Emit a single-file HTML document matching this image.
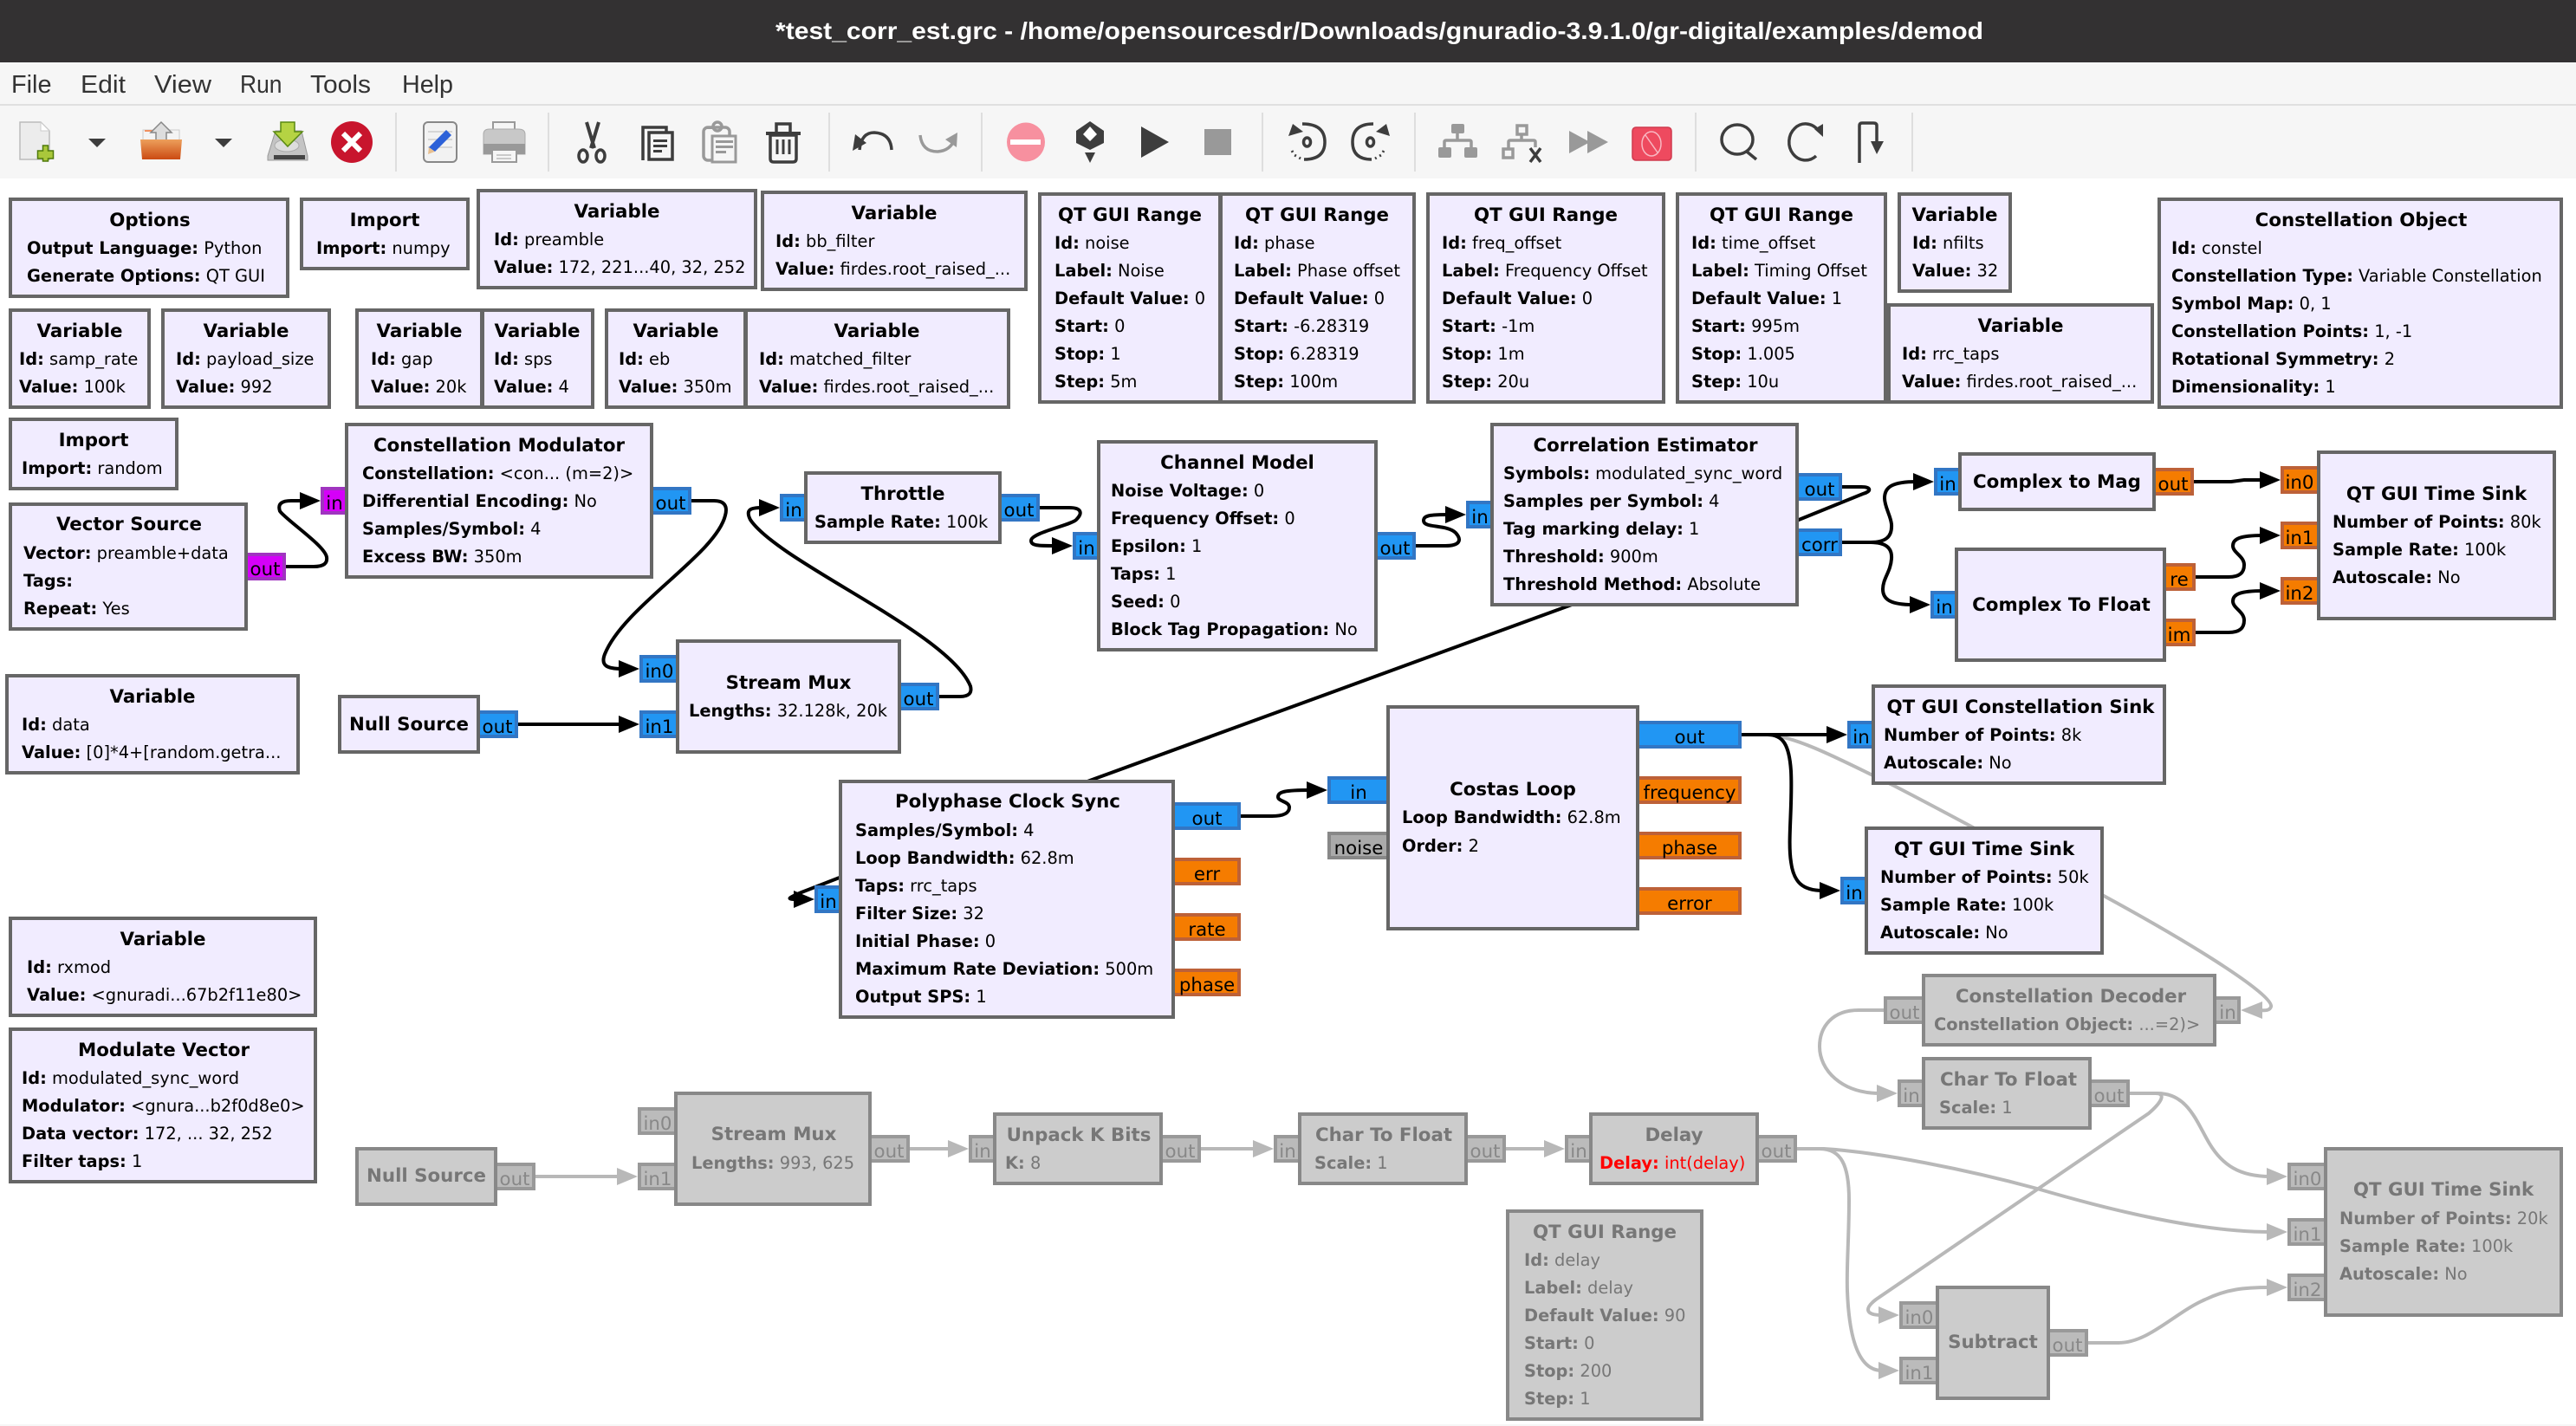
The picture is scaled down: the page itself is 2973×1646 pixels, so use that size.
<!DOCTYPE html>
<html lang="en"><head><meta charset="utf-8"><title>test_corr_est.grc</title>
<style>
html,body{margin:0;padding:0;background:#fff;width:2973px;height:1646px;overflow:hidden}
svg{display:block}
text{font-family:"DejaVu Sans","Liberation Sans",sans-serif;font-size:19.4px;fill:#000;white-space:pre}
tspan.k,text.k{font-weight:bold}
text.t{font-weight:bold;font-size:21.33px;text-anchor:middle}
.d text,text.d{fill:#777}
text.p{font-size:21.33px;text-anchor:middle}
.b{fill:#f1ecff;stroke:#666;stroke-width:4}
.bd{fill:#ccc;stroke:#888;stroke-width:4}
.pb{fill:#2196f3;stroke:#3276c4;stroke-width:4}
.po{fill:#f57c00;stroke:#bd6138;stroke-width:4}
.pm{fill:#d500f9;stroke:#a034c0;stroke-width:4}
.pg{fill:#aaa;stroke:#888;stroke-width:4}
.pd{fill:#bbb;stroke:#999;stroke-width:4}
.c{fill:none;stroke:#000;stroke-width:4}
.cd{fill:none;stroke:#b8b8b8;stroke-width:4}
.a{fill:#000}
.ad{fill:#b8b8b8}
text.dp{font-size:21.33px;text-anchor:middle;fill:#888}
.m{font-family:"Liberation Sans",sans-serif;font-size:28.5px;fill:#333}
.sep{fill:#dedede}
.ic{fill:#3d3d3d}
.is{fill:none;stroke:#3d3d3d;stroke-width:3.5}
.ig{fill:#999}
.igs{fill:none;stroke:#999;stroke-width:3.5}
</style></head><body>
<svg xmlns="http://www.w3.org/2000/svg" width="2973" height="1646" viewBox="0 0 2973 1646">
<rect x="0" y="0" width="2973" height="1646" fill="#fff"/>
<!-- title and menu -->
<rect x="0" y="0" width="2973" height="72" fill="#333132"/>
<text x="895" y="45" textLength="1394" lengthAdjust="spacingAndGlyphs" style="font-family:'Liberation Sans',sans-serif;font-weight:bold;font-size:28px;fill:#fff">*test_corr_est.grc - /home/opensourcesdr/Downloads/gnuradio-3.9.1.0/gr-digital/examples/demod</text>
<rect x="0" y="72" width="2973" height="134" fill="#f6f6f6"/>
<rect x="0" y="120" width="2973" height="2" fill="#e0e0e0"/>
<text class="m" x="13" y="107" textLength="46.5" lengthAdjust="spacingAndGlyphs">File</text>
<text class="m" x="93" y="107" textLength="52" lengthAdjust="spacingAndGlyphs">Edit</text>
<text class="m" x="178" y="107" textLength="66" lengthAdjust="spacingAndGlyphs">View</text>
<text class="m" x="277" y="107" textLength="48.5" lengthAdjust="spacingAndGlyphs">Run</text>
<text class="m" x="358" y="107" textLength="70" lengthAdjust="spacingAndGlyphs">Tools</text>
<text class="m" x="464" y="107" textLength="59" lengthAdjust="spacingAndGlyphs">Help</text>
<rect x="0" y="1644" width="2973" height="2" fill="#f6f6f6"/>
<!-- toolbar -->
<defs>
<linearGradient id="og" x1="0" y1="0" x2="0" y2="1"><stop offset="0" stop-color="#eda05c"/><stop offset="1" stop-color="#cb4a12"/></linearGradient>
</defs>
<g>
<rect class="sep" x="456" y="130" width="2" height="68"/><rect class="sep" x="632" y="130" width="2" height="68"/><rect class="sep" x="956" y="130" width="2" height="68"/><rect class="sep" x="1132" y="130" width="2" height="68"/><rect class="sep" x="1456" y="130" width="2" height="68"/><rect class="sep" x="1632" y="130" width="2" height="68"/><rect class="sep" x="1956" y="130" width="2" height="68"/><rect class="sep" x="2206" y="130" width="2" height="68"/>
<path d="M23 141H47L57 151V184H23Z" fill="#ececec" stroke="#bbb" stroke-width="1.5"/>
<path d="M47 141L57 151H47Z" fill="#fff" stroke="#ccc"/>
<path d="M50 168H56V174H62V183H56V186H50V183H44V174H50Z" transform="translate(-0.5,0)" fill="#a9c73b" stroke="#4f7a0a" stroke-width="1.5"/>
<path d="M102 160H122L112 170Z" class="ic"/>
<path d="M165 150H207V170H165Z" fill="#f4f4f4" stroke="#ccc"/>
<rect x="167" y="150" width="11" height="2" fill="#f09060"/>
<path d="M186 141L198 153H192V165H180V153H174Z" fill="#ddd" stroke="#888" stroke-width="1.5"/>
<path d="M162 161H210L208 184H164Z" fill="url(#og)"/>
<path d="M248 160H268L258 170Z" class="ic"/>
<path d="M318 151H348L355 180V185H309V180Z" fill="#c4c4c4" stroke="#999"/>
<rect x="316" y="179" width="36" height="5" fill="#444"/>
<ellipse cx="331" cy="168" rx="14" ry="7" fill="#ddd" stroke="#aaa"/>
<path d="M324 141H340V152H349L332 169L316 152H324Z" fill="#b5d343" stroke="#5a8a12" stroke-width="1.5"/>
<circle cx="406" cy="164" r="24" fill="#c8152d"/>
<path d="M396 154L416 174M416 154L396 174" stroke="#fff" stroke-width="6" fill="none"/>
<rect x="489" y="141" width="38" height="46" rx="5" fill="#f2f2f2" stroke="#888" stroke-width="2"/>
<path d="M494 152H522M494 161H522M494 170H522" stroke="#ccc" stroke-width="1.5"/>
<path d="M515 150L521 156L502 175L495 170Z" fill="#2c61d8"/><path d="M495 170L502 175L494 178Z" fill="#e8c090"/>
<path d="M569 141H594V152H569Z" fill="#f6f6f6" stroke="#999" stroke-width="2"/>
<path d="M558 155Q558 149 565 149H598Q606 149 606 155V178H558Z" fill="#c8c8c8" stroke="#aaa"/>
<rect x="558" y="166" width="48" height="12" fill="#999"/>
<path d="M568 173H596V187H568Z" fill="#f6f6f6" stroke="#999" stroke-width="2"/>
<path d="M573 179H590M573 183H590" stroke="#bbb" stroke-width="1.5"/>
<path d="M677 141L686 171M691 141L682 171" stroke="#3d3d3d" stroke-width="4" fill="none"/>
<ellipse cx="673" cy="180" rx="5" ry="7" class="is"/><ellipse cx="693" cy="180" rx="5" ry="7" class="is"/>
<path d="M742 185V147H769V153M749 153H776V184H749Z" class="is" stroke-width="3" fill="none"/>
<path d="M754 161H770V164H754ZM754 167H770V170H754ZM754 173H764V176H754Z" class="ic"/>
<path d="M816 146H824V149H816Z" class="ig"/>
<rect x="812" y="147" width="30" height="38" rx="5" class="igs"/>
<circle cx="828" cy="146" r="5" class="igs"/>
<path d="M822 157H849V187H822Z" fill="#f6f6f6" stroke="#999" stroke-width="3"/>
<path d="M826 162H846V165H826ZM826 168H846V171H826ZM826 174H838V177H826Z" class="ig"/>
<path d="M885 153H923V155H885Z" class="ic" stroke="#3d3d3d" stroke-width="2"/>
<path d="M896 152V143H912V152" class="is" stroke-width="4"/>
<path d="M889 156H919V183Q919 187 915 187H893Q889 187 889 183Z" class="is" stroke-width="4"/>
<path d="M897 161V178M904 161V178M911 161V178" stroke="#3d3d3d" stroke-width="3" fill="none"/>
<path d="M992 173Q994 153 1009 153Q1028 154 1029 173" class="is" stroke-width="4"/>
<path d="M984 174L987 155L1000 165Z" class="ic"/>
<path d="M1062 156Q1064 175 1082 175Q1097 174 1102 160" class="igs" stroke-width="3.5"/>
<path d="M1105 153L1104 170L1091 161Z" class="ig"/>
<ellipse cx="1184" cy="164" rx="22" ry="22.5" fill="#f7909f"/>
<rect x="1167" y="162" width="33" height="4" fill="#fff" stroke="#fff" stroke-width="2"/>
<path d="M1258 140L1274 151V165L1258 173L1242 165V151Z" class="ic"/>
<path d="M1258 146L1266 155L1258 163L1250 155Z" fill="#fff"/>
<path d="M1252 176H1264L1258 188Z" class="ic"/>
<path d="M1317 146L1349 164L1317 182Z" class="ic"/>
<rect x="1390" y="149" width="31" height="30" class="ig"/>
<path d="M1503 143Q1529 143 1529 164Q1529 184 1505 184" class="is"/>
<path d="M1487 157L1492 143L1504 152Z" class="ic"/>
<path d="M1491 174L1494 179L1501 183" stroke="#3d3d3d" stroke-width="3" stroke-dasharray="2 4" fill="none"/>
<ellipse cx="1508.5" cy="164" rx="4" ry="5" class="is"/>
<path d="M1585 143Q1561 143 1561 164Q1561 184 1583 184" class="is"/>
<path d="M1604 157L1600 143L1588 152Z" class="ic"/>
<path d="M1597 174L1594 179L1587 183" stroke="#3d3d3d" stroke-width="3" stroke-dasharray="2 4" fill="none"/>
<ellipse cx="1581.5" cy="164" rx="4" ry="5" class="is"/>
<rect x="1675" y="143" width="15" height="11" rx="2" class="ig"/><rect x="1660" y="170" width="15" height="12" rx="2" class="ig"/><rect x="1690" y="170" width="15" height="12" rx="2" class="ig"/>
<path d="M1682 154V162M1667 170V164Q1667 162 1669 162H1696Q1698 162 1698 164V170" class="igs" stroke-width="3"/>
<rect x="1751" y="145" width="11" height="10" class="igs" stroke-width="3"/><rect x="1735" y="172" width="11" height="10" class="igs" stroke-width="3"/>
<path d="M1756 155V162M1741 172V164Q1741 162 1743 162H1770Q1772 162 1772 164V170" class="igs" stroke-width="3"/>
<path d="M1766 171L1778 187M1778 171L1766 187" class="is" stroke-width="3"/>
<path d="M1811 151L1835 164L1811 177ZM1832 151L1856 164L1832 177Z" class="ig"/>
<rect x="1884" y="147" width="45" height="38" rx="4" fill="#ee4a5f" stroke="#cf3a4e" stroke-width="1.5"/>
<ellipse cx="1906" cy="166" rx="11" ry="14" fill="none" stroke="#f8b8c2" stroke-width="1.5"/>
<path d="M1899 156L1913 176" stroke="#f8b8c2" stroke-width="1.5"/>
<ellipse cx="2005" cy="161" rx="18" ry="17" class="is"/>
<path d="M2016 175L2027 184" class="is" stroke-width="4"/>
<path d="M2098 150A19 21 0 1 0 2096 180" class="is"/><path d="M2094 149L2104 143L2104 158Z" class="ic"/>
<path d="M2146 188V145Q2146 142 2149 142H2162Q2166 142 2166 145V165" class="is"/>
<path d="M2159 163H2174L2166 178Z" class="ic"/>
</g>
<!-- disabled connectors -->
<g>
<path class="cd" d="M2010 848H2040C2075 850 2130 880 2186 907C2260 945 2340 990 2428 1034C2540 1095 2625 1150 2621 1162C2619 1168 2612 1166 2600 1166"/>
<path class="ad" d="M2586 1166L2611 1156V1176Z"/>
<path class="cd" d="M2174 1166H2145C2115 1166 2100 1185 2100 1208C2100 1235 2125 1262 2170 1262"/>
<path class="ad" d="M2190 1262L2166 1252V1272Z"/>
<path class="cd" d="M2458 1262H2490C2525 1262 2535 1295 2550 1320C2565 1345 2585 1358 2620 1358"/>
<path class="ad" d="M2640 1358L2616 1348V1368Z"/>
<path class="cd" d="M2458 1262H2488C2500 1262 2495 1272 2480 1285L2165 1500C2152 1510 2152 1518 2172 1518"/>
<path class="ad" d="M2192 1518L2168 1508V1528Z"/>
<path class="cd" d="M2074 1326H2105C2170 1330 2270 1350 2351 1372C2440 1398 2540 1422 2620 1422"/>
<path class="ad" d="M2640 1422L2616 1412V1432Z"/>
<path class="cd" d="M2074 1326H2100C2125 1326 2134 1345 2134 1385C2134 1430 2131 1460 2132 1490C2134 1545 2145 1582 2172 1582"/>
<path class="ad" d="M2192 1582L2168 1572V1592Z"/>
<path class="cd" d="M2410 1550H2445C2480 1550 2510 1515 2545 1500C2570 1488 2590 1486 2620 1486"/>
<path class="ad" d="M2640 1486L2616 1476V1496Z"/>
<path class="cd" d="M618 1358H716"/><path class="ad" d="M736 1358L712 1348V1368Z"/>
<path class="cd" d="M1050 1326H1098"/><path class="ad" d="M1118 1326L1094 1316V1336Z"/>
<path class="cd" d="M1386 1326H1450"/><path class="ad" d="M1470 1326L1446 1316V1336Z"/>
<path class="cd" d="M1738 1326H1786"/><path class="ad" d="M1806 1326L1782 1316V1336Z"/>
</g>
<!-- enabled connectors -->
<g>
<path class="c" d="M330 654H362C374 654 378 650 377 643C375 630 330 600 323 590C320 581 326 578 336 578H350"/>
<path class="a" d="M370 578L346 568V588Z"/>
<path class="c" d="M798 578H824C836 578 840 584 837 595C826 640 720 700 698 755C693 768 700 772 718 772"/>
<path class="a" d="M738 772L714 762V782Z"/>
<path class="c" d="M598 836H718"/><path class="a" d="M738 836L714 826V846Z"/>
<path class="c" d="M1084 804H1108C1118 804 1122 800 1120 792C1095 730 900 650 866 600C860 588 866 586 880 586"/>
<path class="a" d="M900 586L876 576V596Z"/>
<path class="c" d="M1200 586H1234C1248 586 1250 592 1242 600C1236 606 1190 615 1190 624C1190 630 1198 630 1218 630"/>
<path class="a" d="M1238 630L1214 620V640Z"/>
<path class="c" d="M1634 630H1668C1684 630 1688 624 1680 615C1670 605 1643 610 1643 601C1643 595 1650 594 1672 594"/>
<path class="a" d="M1692 594L1668 584V604Z"/>
<path class="c" d="M2126 562H2148C2160 562 2160 567 2150 570L2076 600L1814 698L1255 902L925 1030C908 1037 908 1038 920 1038"/>
<path class="a" d="M940 1038L916 1028V1048Z"/>
<path class="c" d="M2126 626H2158C2176 626 2184 620 2183 605C2182 595 2175 585 2175 575C2175 562 2184 556 2212 556"/>
<path class="a" d="M2232 556L2208 546V566Z"/>
<path class="c" d="M2126 626H2158C2176 626 2184 632 2183 645C2182 660 2173 668 2173 680C2173 692 2182 698 2208 698"/>
<path class="a" d="M2228 698L2204 688V708Z"/>
<path class="c" d="M2532 556H2575L2590 554H2612"/>
<path class="a" d="M2632 554L2608 544V564Z"/>
<path class="c" d="M2534 666H2572C2586 666 2590 660 2590 652C2590 642 2577 638 2577 630C2577 622 2585 618 2612 618"/>
<path class="a" d="M2632 618L2608 608V628Z"/>
<path class="c" d="M2534 730H2572C2586 730 2590 724 2590 716C2590 706 2577 702 2577 694C2577 686 2585 682 2612 682"/>
<path class="a" d="M2632 682L2608 672V692Z"/>
<path class="c" d="M1432 942H1468C1482 942 1488 938 1488 932C1488 925 1475 925 1475 920C1475 914 1482 912 1512 912"/>
<path class="a" d="M1532 912L1508 902V922Z"/>
<path class="c" d="M2010 848H2112"/><path class="a" d="M2132 848L2108 838V858Z"/>
<path class="c" d="M2010 848H2040C2058 848 2065 860 2067 890C2069 930 2063 970 2067 995C2070 1018 2080 1028 2104 1028"/>
<path class="a" d="M2124 1028L2100 1018V1038Z"/>
</g>
<!-- ports -->
<g>
<rect class="pm" x="280" y="640" width="48" height="28"/><rect class="pm" x="372" y="564" width="32" height="28"/>
<rect class="pb" x="748" y="564" width="48" height="28"/>
<rect class="pb" x="740" y="758" width="46" height="28"/><rect class="pb" x="740" y="822" width="46" height="28"/><rect class="pb" x="1034" y="790" width="48" height="28"/>
<rect class="pb" x="548" y="822" width="48" height="28"/>
<rect class="pb" x="902" y="572" width="32" height="28"/><rect class="pb" x="1150" y="572" width="48" height="28"/>
<rect class="pb" x="1240" y="616" width="32" height="28"/><rect class="pb" x="1584" y="616" width="48" height="28"/>
<rect class="pb" x="1694" y="580" width="32" height="28"/><rect class="pb" x="2070" y="548" width="54" height="28"/><rect class="pb" x="2070" y="612" width="54" height="28"/>
<rect class="pb" x="2234" y="542" width="32" height="28"/><rect class="po" x="2482" y="542" width="48" height="28"/>
<rect class="pb" x="2230" y="684" width="32" height="28"/><rect class="po" x="2494" y="652" width="38" height="28"/><rect class="po" x="2494" y="716" width="38" height="28"/>
<rect class="po" x="2634" y="540" width="46" height="28"/><rect class="po" x="2634" y="604" width="46" height="28"/><rect class="po" x="2634" y="668" width="46" height="28"/>
<rect class="pb" x="2134" y="834" width="32" height="28"/>
<rect class="pb" x="1534" y="898" width="72" height="28"/><rect class="pg" x="1534" y="962" width="72" height="28"/>
<rect class="pb" x="1886" y="834" width="122" height="28"/><rect class="po" x="1886" y="898" width="122" height="28"/><rect class="po" x="1886" y="962" width="122" height="28"/><rect class="po" x="1886" y="1026" width="122" height="28"/>
<rect class="pb" x="942" y="1024" width="32" height="28"/>
<rect class="pb" x="1350" y="928" width="80" height="28"/><rect class="po" x="1350" y="992" width="80" height="28"/><rect class="po" x="1350" y="1056" width="80" height="28"/><rect class="po" x="1350" y="1120" width="80" height="28"/>
<rect class="pb" x="2126" y="1014" width="32" height="28"/>
<rect class="pd" x="2176" y="1152" width="48" height="28"/><rect class="pd" x="2552" y="1152" width="32" height="28"/>
<rect class="pd" x="2192" y="1248" width="32" height="28"/><rect class="pd" x="2408" y="1248" width="48" height="28"/>
<rect class="pd" x="2642" y="1344" width="46" height="28"/><rect class="pd" x="2642" y="1408" width="46" height="28"/><rect class="pd" x="2642" y="1472" width="46" height="28"/>
<rect class="pd" x="2194" y="1504" width="46" height="28"/><rect class="pd" x="2194" y="1568" width="46" height="28"/><rect class="pd" x="2360" y="1536" width="48" height="28"/>
<rect class="pd" x="1808" y="1312" width="32" height="28"/><rect class="pd" x="2024" y="1312" width="48" height="28"/>
<rect class="pd" x="1472" y="1312" width="32" height="28"/><rect class="pd" x="1688" y="1312" width="48" height="28"/>
<rect class="pd" x="1120" y="1312" width="32" height="28"/><rect class="pd" x="1336" y="1312" width="48" height="28"/>
<rect class="pd" x="738" y="1280" width="46" height="28"/><rect class="pd" x="738" y="1344" width="46" height="28"/><rect class="pd" x="1000" y="1312" width="48" height="28"/>
<rect class="pd" x="568" y="1344" width="48" height="28"/>
</g>
<!-- blocks -->
<g>
<rect class="b" x="12" y="230" width="320" height="112"/>
<rect class="b" x="348" y="230" width="192" height="80"/>
<rect class="b" x="552" y="220" width="320" height="112"/>
<rect class="b" x="880" y="222" width="304" height="112"/>
<rect class="b" x="12" y="358" width="160" height="112"/>
<rect class="b" x="188" y="358" width="192" height="112"/>
<rect class="b" x="412" y="358" width="144" height="112"/>
<rect class="b" x="557" y="358" width="127" height="112"/>
<rect class="b" x="700" y="358" width="160" height="112"/>
<rect class="b" x="861" y="358" width="303" height="112"/>
<rect class="b" x="1200" y="224" width="208" height="240"/>
<rect class="b" x="1409" y="224" width="223" height="240"/>
<rect class="b" x="1648" y="224" width="272" height="240"/>
<rect class="b" x="1936" y="224" width="240" height="240"/>
<rect class="b" x="2192" y="224" width="128" height="112"/>
<rect class="b" x="2180" y="352" width="304" height="112"/>
<rect class="b" x="2492" y="230" width="464" height="240"/>
<rect class="b" x="12" y="484" width="192" height="80"/>
<rect class="b" x="12" y="582" width="272" height="144"/>
<rect class="b" x="400" y="490" width="352" height="176"/>
<rect class="b" x="8" y="780" width="336" height="112"/>
<rect class="b" x="392" y="804" width="160" height="64"/>
<rect class="b" x="782" y="740" width="256" height="128"/>
<rect class="b" x="930" y="546" width="224" height="80"/>
<rect class="b" x="1268" y="510" width="320" height="240"/>
<rect class="b" x="1722" y="490" width="352" height="208"/>
<rect class="b" x="2262" y="524" width="224" height="64"/>
<rect class="b" x="2258" y="634" width="240" height="128"/>
<rect class="b" x="2676" y="522" width="272" height="192"/>
<rect class="b" x="2162" y="792" width="336" height="112"/>
<rect class="b" x="1602" y="816" width="288" height="256"/>
<rect class="b" x="970" y="902" width="384" height="272"/>
<rect class="b" x="2154" y="956" width="272" height="144"/>
<rect class="b" x="12" y="1060" width="352" height="112"/>
<rect class="b" x="12" y="1188" width="352" height="176"/>
<rect class="bd" x="2220" y="1126" width="336" height="80"/>
<rect class="bd" x="2220" y="1222" width="192" height="80"/>
<rect class="bd" x="2684" y="1326" width="272" height="192"/>
<rect class="bd" x="2236" y="1486" width="128" height="128"/>
<rect class="bd" x="1836" y="1286" width="192" height="80"/>
<rect class="bd" x="1500" y="1286" width="192" height="80"/>
<rect class="bd" x="1148" y="1286" width="192" height="80"/>
<rect class="bd" x="780" y="1262" width="224" height="128"/>
<rect class="bd" x="412" y="1326" width="160" height="64"/>
<rect class="bd" x="1740" y="1398" width="224" height="240"/>
</g>
<!-- port labels -->
<g>
<text class="p" x="306" y="664">out</text><text class="p" x="386" y="588">in</text><text class="p" x="774" y="588">out</text>
<text class="p" x="761" y="782">in0</text><text class="p" x="761" y="846">in1</text><text class="p" x="1060" y="814">out</text><text class="p" x="574" y="846">out</text>
<text class="p" x="916" y="596">in</text><text class="p" x="1176" y="596">out</text><text class="p" x="1254" y="640">in</text><text class="p" x="1610" y="640">out</text>
<text class="p" x="1708" y="604">in</text><text class="p" x="2100" y="572">out</text><text class="p" x="2100" y="636">corr</text>
<text class="p" x="2248" y="566">in</text><text class="p" x="2508" y="566">out</text><text class="p" x="2244" y="708">in</text><text class="p" x="2515" y="676">re</text><text class="p" x="2515" y="740">im</text>
<text class="p" x="2654" y="564">in0</text><text class="p" x="2654" y="628">in1</text><text class="p" x="2654" y="692">in2</text>
<text class="p" x="2148" y="858">in</text>
<text class="p" x="1568" y="922">in</text><text class="p" x="1568" y="986">noise</text>
<text class="p" x="1950" y="858">out</text><text class="p" x="1950" y="922">frequency</text><text class="p" x="1950" y="986">phase</text><text class="p" x="1950" y="1050">error</text>
<text class="p" x="956" y="1048">in</text><text class="p" x="1393" y="952">out</text><text class="p" x="1393" y="1016">err</text><text class="p" x="1393" y="1080">rate</text><text class="p" x="1393" y="1144">phase</text>
<text class="p" x="2140" y="1038">in</text>
<text class="dp" x="2198" y="1176">out</text><text class="dp" x="2571" y="1176">in</text><text class="dp" x="2206" y="1272">in</text><text class="dp" x="2434" y="1272">out</text>
<text class="dp" x="2663" y="1368">in0</text><text class="dp" x="2663" y="1432">in1</text><text class="dp" x="2663" y="1496">in2</text>
<text class="dp" x="2215" y="1528">in0</text><text class="dp" x="2215" y="1592">in1</text><text class="dp" x="2386" y="1560">out</text>
<text class="dp" x="1822" y="1336">in</text><text class="dp" x="2050" y="1336">out</text>
<text class="dp" x="1486" y="1336">in</text><text class="dp" x="1714" y="1336">out</text>
<text class="dp" x="1134" y="1336">in</text><text class="dp" x="1362" y="1336">out</text>
<text class="dp" x="759" y="1304">in0</text><text class="dp" x="759" y="1368">in1</text><text class="dp" x="1026" y="1336">out</text>
<text class="dp" x="594" y="1368">out</text>
</g>
<!-- block text -->
<g>
<text class="t" x="173" y="261">Options</text>
<text x="31" y="293"><tspan class="k">Output Language:</tspan> Python</text>
<text x="31" y="325"><tspan class="k">Generate Options:</tspan> QT GUI</text>
<text class="t" x="444" y="261">Import</text>
<text x="365" y="293"><tspan class="k">Import:</tspan> numpy</text>
<text class="t" x="712" y="251">Variable</text>
<text x="570" y="283"><tspan class="k">Id:</tspan> preamble</text>
<text x="570" y="315"><tspan class="k">Value:</tspan> 172, 221...40, 32, 252</text>
<text class="t" x="1032" y="253">Variable</text>
<text x="895" y="285"><tspan class="k">Id:</tspan> bb_filter</text>
<text x="895" y="317"><tspan class="k">Value:</tspan> firdes.root_raised_...</text>
<text class="t" x="92" y="389">Variable</text>
<text x="22" y="421"><tspan class="k">Id:</tspan> samp_rate</text>
<text x="22" y="453"><tspan class="k">Value:</tspan> 100k</text>
<text class="t" x="284" y="389">Variable</text>
<text x="203" y="421"><tspan class="k">Id:</tspan> payload_size</text>
<text x="203" y="453"><tspan class="k">Value:</tspan> 992</text>
<text class="t" x="484" y="389">Variable</text>
<text x="428" y="421"><tspan class="k">Id:</tspan> gap</text>
<text x="428" y="453"><tspan class="k">Value:</tspan> 20k</text>
<text class="t" x="620" y="389">Variable</text>
<text x="570" y="421"><tspan class="k">Id:</tspan> sps</text>
<text x="570" y="453"><tspan class="k">Value:</tspan> 4</text>
<text class="t" x="780" y="389">Variable</text>
<text x="714" y="421"><tspan class="k">Id:</tspan> eb</text>
<text x="714" y="453"><tspan class="k">Value:</tspan> 350m</text>
<text class="t" x="1012" y="389">Variable</text>
<text x="876" y="421"><tspan class="k">Id:</tspan> matched_filter</text>
<text x="876" y="453"><tspan class="k">Value:</tspan> firdes.root_raised_...</text>
<text class="t" x="1304" y="255">QT GUI Range</text>
<text x="1217" y="287"><tspan class="k">Id:</tspan> noise</text>
<text x="1217" y="319"><tspan class="k">Label:</tspan> Noise</text>
<text x="1217" y="351"><tspan class="k">Default Value:</tspan> 0</text>
<text x="1217" y="383"><tspan class="k">Start:</tspan> 0</text>
<text x="1217" y="415"><tspan class="k">Stop:</tspan> 1</text>
<text x="1217" y="447"><tspan class="k">Step:</tspan> 5m</text>
<text class="t" x="1520" y="255">QT GUI Range</text>
<text x="1424" y="287"><tspan class="k">Id:</tspan> phase</text>
<text x="1424" y="319"><tspan class="k">Label:</tspan> Phase offset</text>
<text x="1424" y="351"><tspan class="k">Default Value:</tspan> 0</text>
<text x="1424" y="383"><tspan class="k">Start:</tspan> -6.28319</text>
<text x="1424" y="415"><tspan class="k">Stop:</tspan> 6.28319</text>
<text x="1424" y="447"><tspan class="k">Step:</tspan> 100m</text>
<text class="t" x="1784" y="255">QT GUI Range</text>
<text x="1664" y="287"><tspan class="k">Id:</tspan> freq_offset</text>
<text x="1664" y="319"><tspan class="k">Label:</tspan> Frequency Offset</text>
<text x="1664" y="351"><tspan class="k">Default Value:</tspan> 0</text>
<text x="1664" y="383"><tspan class="k">Start:</tspan> -1m</text>
<text x="1664" y="415"><tspan class="k">Stop:</tspan> 1m</text>
<text x="1664" y="447"><tspan class="k">Step:</tspan> 20u</text>
<text class="t" x="2056" y="255">QT GUI Range</text>
<text x="1952" y="287"><tspan class="k">Id:</tspan> time_offset</text>
<text x="1952" y="319"><tspan class="k">Label:</tspan> Timing Offset</text>
<text x="1952" y="351"><tspan class="k">Default Value:</tspan> 1</text>
<text x="1952" y="383"><tspan class="k">Start:</tspan> 995m</text>
<text x="1952" y="415"><tspan class="k">Stop:</tspan> 1.005</text>
<text x="1952" y="447"><tspan class="k">Step:</tspan> 10u</text>
<text class="t" x="2256" y="255">Variable</text>
<text x="2207" y="287"><tspan class="k">Id:</tspan> nfilts</text>
<text x="2207" y="319"><tspan class="k">Value:</tspan> 32</text>
<text class="t" x="2332" y="383">Variable</text>
<text x="2195" y="415"><tspan class="k">Id:</tspan> rrc_taps</text>
<text x="2195" y="447"><tspan class="k">Value:</tspan> firdes.root_raised_...</text>
<text class="t" x="2725" y="261">Constellation Object</text>
<text x="2506" y="293"><tspan class="k">Id:</tspan> constel</text>
<text x="2506" y="325"><tspan class="k">Constellation Type:</tspan> Variable Constellation</text>
<text x="2506" y="357"><tspan class="k">Symbol Map:</tspan> 0, 1</text>
<text x="2506" y="389"><tspan class="k">Constellation Points:</tspan> 1, -1</text>
<text x="2506" y="421"><tspan class="k">Rotational Symmetry:</tspan> 2</text>
<text x="2506" y="453"><tspan class="k">Dimensionality:</tspan> 1</text>
<text class="t" x="108" y="515">Import</text>
<text x="25" y="547"><tspan class="k">Import:</tspan> random</text>
<text class="t" x="149" y="612">Vector Source</text>
<text x="27" y="645"><tspan class="k">Vector:</tspan> preamble+data</text>
<text x="27" y="677"><tspan class="k">Tags:</tspan></text>
<text x="27" y="709"><tspan class="k">Repeat:</tspan> Yes</text>
<text class="t" x="576" y="521">Constellation Modulator</text>
<text x="418" y="553"><tspan class="k">Constellation:</tspan> &lt;con... (m=2)&gt;</text>
<text x="418" y="585"><tspan class="k">Differential Encoding:</tspan> No</text>
<text x="418" y="617"><tspan class="k">Samples/Symbol:</tspan> 4</text>
<text x="418" y="649"><tspan class="k">Excess BW:</tspan> 350m</text>
<text class="t" x="176" y="811">Variable</text>
<text x="25" y="843"><tspan class="k">Id:</tspan> data</text>
<text x="25" y="875"><tspan class="k">Value:</tspan> [0]*4+[random.getra...</text>
<text class="t" x="472" y="843">Null Source</text>
<text class="t" x="910" y="795">Stream Mux</text>
<text x="795" y="827"><tspan class="k">Lengths:</tspan> 32.128k, 20k</text>
<text class="t" x="1042" y="577">Throttle</text>
<text x="940" y="609"><tspan class="k">Sample Rate:</tspan> 100k</text>
<text class="t" x="1428" y="541">Channel Model</text>
<text x="1282" y="573"><tspan class="k">Noise Voltage:</tspan> 0</text>
<text x="1282" y="605"><tspan class="k">Frequency Offset:</tspan> 0</text>
<text x="1282" y="637"><tspan class="k">Epsilon:</tspan> 1</text>
<text x="1282" y="669"><tspan class="k">Taps:</tspan> 1</text>
<text x="1282" y="701"><tspan class="k">Seed:</tspan> 0</text>
<text x="1282" y="733"><tspan class="k">Block Tag Propagation:</tspan> No</text>
<text class="t" x="1899" y="521">Correlation Estimator</text>
<text x="1735" y="553"><tspan class="k">Symbols:</tspan> modulated_sync_word</text>
<text x="1735" y="585"><tspan class="k">Samples per Symbol:</tspan> 4</text>
<text x="1735" y="617"><tspan class="k">Tag marking delay:</tspan> 1</text>
<text x="1735" y="649"><tspan class="k">Threshold:</tspan> 900m</text>
<text x="1735" y="681"><tspan class="k">Threshold Method:</tspan> Absolute</text>
<text class="t" x="2374" y="563">Complex to Mag</text>
<text class="t" x="2379" y="705">Complex To Float</text>
<text class="t" x="2812" y="577">QT GUI Time Sink</text>
<text x="2692" y="609"><tspan class="k">Number of Points:</tspan> 80k</text>
<text x="2692" y="641"><tspan class="k">Sample Rate:</tspan> 100k</text>
<text x="2692" y="673"><tspan class="k">Autoscale:</tspan> No</text>
<text class="t" x="2332" y="823">QT GUI Constellation Sink</text>
<text x="2174" y="855"><tspan class="k">Number of Points:</tspan> 8k</text>
<text x="2174" y="887"><tspan class="k">Autoscale:</tspan> No</text>
<text class="t" x="1746" y="918">Costas Loop</text>
<text x="1618" y="950"><tspan class="k">Loop Bandwidth:</tspan> 62.8m</text>
<text x="1618" y="983"><tspan class="k">Order:</tspan> 2</text>
<text class="t" x="1163" y="932">Polyphase Clock Sync</text>
<text x="987" y="965"><tspan class="k">Samples/Symbol:</tspan> 4</text>
<text x="987" y="997"><tspan class="k">Loop Bandwidth:</tspan> 62.8m</text>
<text x="987" y="1029"><tspan class="k">Taps:</tspan> rrc_taps</text>
<text x="987" y="1061"><tspan class="k">Filter Size:</tspan> 32</text>
<text x="987" y="1093"><tspan class="k">Initial Phase:</tspan> 0</text>
<text x="987" y="1125"><tspan class="k">Maximum Rate Deviation:</tspan> 500m</text>
<text x="987" y="1157"><tspan class="k">Output SPS:</tspan> 1</text>
<text class="t" x="2290" y="987">QT GUI Time Sink</text>
<text x="2170" y="1019"><tspan class="k">Number of Points:</tspan> 50k</text>
<text x="2170" y="1051"><tspan class="k">Sample Rate:</tspan> 100k</text>
<text x="2170" y="1083"><tspan class="k">Autoscale:</tspan> No</text>
<text class="t" x="188" y="1091">Variable</text>
<text x="31" y="1123"><tspan class="k">Id:</tspan> rxmod</text>
<text x="31" y="1155"><tspan class="k">Value:</tspan> &lt;gnuradi...67b2f11e80&gt;</text>
<text class="t" x="189" y="1219">Modulate Vector</text>
<text x="25" y="1251"><tspan class="k">Id:</tspan> modulated_sync_word</text>
<text x="25" y="1283"><tspan class="k">Modulator:</tspan> &lt;gnura...b2f0d8e0&gt;</text>
<text x="25" y="1315"><tspan class="k">Data vector:</tspan> 172, ... 32, 252</text>
<text x="25" y="1347"><tspan class="k">Filter taps:</tspan> 1</text>
</g>
<g class="d">
<text class="t" x="2390" y="1157">Constellation Decoder</text>
<text x="2232" y="1189"><tspan class="k">Constellation Object:</tspan> ...=2)&gt;</text>
<text class="t" x="2318" y="1253">Char To Float</text>
<text x="2238" y="1285"><tspan class="k">Scale:</tspan> 1</text>
<text class="t" x="2820" y="1380">QT GUI Time Sink</text>
<text x="2700" y="1413"><tspan class="k">Number of Points:</tspan> 20k</text>
<text x="2700" y="1445"><tspan class="k">Sample Rate:</tspan> 100k</text>
<text x="2700" y="1477"><tspan class="k">Autoscale:</tspan> No</text>
<text class="t" x="2300" y="1556">Subtract</text>
<text class="t" x="1932" y="1317">Delay</text>
<text x="1846" y="1349" style="fill:#f00"><tspan class="k">Delay:</tspan> int(delay)</text>
<text class="t" x="1597" y="1317">Char To Float</text>
<text x="1517" y="1349"><tspan class="k">Scale:</tspan> 1</text>
<text class="t" x="1245" y="1317">Unpack K Bits</text>
<text x="1160" y="1349"><tspan class="k">K:</tspan> 8</text>
<text class="t" x="893" y="1316">Stream Mux</text>
<text x="798" y="1349"><tspan class="k">Lengths:</tspan> 993, 625</text>
<text class="t" x="492" y="1364">Null Source</text>
<text class="t" x="1852" y="1429">QT GUI Range</text>
<text x="1759" y="1461"><tspan class="k">Id:</tspan> delay</text>
<text x="1759" y="1493"><tspan class="k">Label:</tspan> delay</text>
<text x="1759" y="1525"><tspan class="k">Default Value:</tspan> 90</text>
<text x="1759" y="1557"><tspan class="k">Start:</tspan> 0</text>
<text x="1759" y="1589"><tspan class="k">Stop:</tspan> 200</text>
<text x="1759" y="1621"><tspan class="k">Step:</tspan> 1</text>
</g>
</svg>
</body></html>
